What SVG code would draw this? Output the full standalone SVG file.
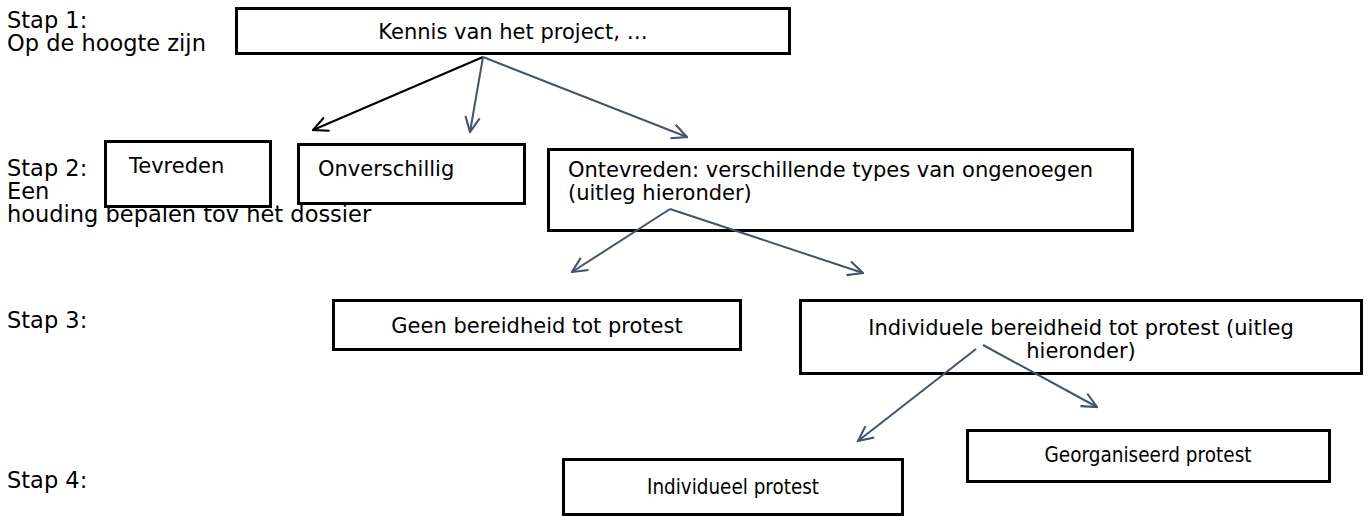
<svg xmlns="http://www.w3.org/2000/svg" width="1368" height="516" viewBox="0 0 1368 516">
  <style>
    .box { fill: #ffffff; stroke: #000000; stroke-width: 3; }
    .lbl { font-family: "DejaVu Sans", Verdana, sans-serif; font-size: 22.5px; fill: #000000; }
    .txt { font-family: "DejaVu Sans", Verdana, sans-serif; font-size: 21px; fill: #000000; }
    .mid { text-anchor: middle; }
    .con { fill: none; stroke: #44546A; stroke-width: 2; }
    .conk { fill: none; stroke: #000000; stroke-width: 2; }
  </style>
  <defs>
    <marker id="ah" viewBox="0 0 12 12" refX="11" refY="6" markerWidth="18" markerHeight="18" markerUnits="userSpaceOnUse" orient="auto">
      <path d="M1,1.2 L11,6 L1,10.8" fill="none" stroke="#44546A" stroke-width="1.4"/>
    </marker>
    <marker id="ahk" viewBox="0 0 12 12" refX="11" refY="6" markerWidth="18" markerHeight="18" markerUnits="userSpaceOnUse" orient="auto">
      <path d="M1,1.2 L11,6 L1,10.8" fill="none" stroke="#000000" stroke-width="1.4"/>
    </marker>
  </defs>

  <g id="labels">
    <text class="lbl" x="7" y="28">Stap 1:</text>
    <text class="lbl" x="7" y="51">Op de hoogte zijn</text>
    <text class="lbl" x="7" y="176">Stap 2:</text>
    <text class="lbl" x="7" y="199">Een</text>
    <text class="lbl" x="7" y="222">houding bepalen tov het dossier</text>
    <text class="lbl" x="7" y="328">Stap 3:</text>
    <text class="lbl" x="7" y="488">Stap 4:</text>
  </g>

  <g id="n-kennis">
    <rect class="box" x="236.5" y="8.5" width="553" height="45"/>
    <text class="txt mid" x="513" y="39">Kennis van het project, …</text>
  </g>
  <g id="n-tevreden">
    <rect class="box" x="105.5" y="141.5" width="165" height="65"/>
    <text class="txt" x="129" y="173">Tevreden</text>
  </g>
  <g id="n-onverschillig">
    <rect class="box" x="298.5" y="144.5" width="226" height="59"/>
    <text class="txt" x="318" y="176">Onverschillig</text>
  </g>
  <g id="n-ontevreden">
    <rect class="box" x="548.5" y="149.5" width="584" height="81"/>
    <text class="txt" x="568" y="177">Ontevreden: verschillende types van ongenoegen</text>
    <text class="txt" x="568" y="200">(uitleg hieronder)</text>
  </g>
  <g id="n-geen">
    <rect class="box" x="333.5" y="300.5" width="407" height="49"/>
    <text class="txt mid" x="537" y="333">Geen bereidheid tot protest</text>
  </g>
  <g id="n-individuele">
    <rect class="box" x="800.5" y="300.5" width="561" height="73"/>
    <text class="txt mid" x="1081" y="335">Individuele bereidheid tot protest (uitleg</text>
    <text class="txt mid" x="1081" y="358">hieronder)</text>
  </g>
  <g id="n-individueel">
    <rect class="box" x="563.5" y="459.5" width="339" height="55"/>
    <text class="txt mid" x="733" y="494" textLength="172" lengthAdjust="spacingAndGlyphs">Individueel protest</text>
  </g>
  <g id="n-georganiseerd">
    <rect class="box" x="967.5" y="430.5" width="362" height="51"/>
    <text class="txt mid" x="1148" y="462" textLength="207" lengthAdjust="spacingAndGlyphs">Georganiseerd protest</text>
  </g>

  <g id="connectors">
    <line class="conk" x1="483" y1="57" x2="313" y2="130" marker-end="url(#ahk)"/>
    <line class="con" x1="483" y1="57" x2="470" y2="132" marker-end="url(#ah)"/>
    <line class="con" x1="483" y1="57" x2="687" y2="137" marker-end="url(#ah)"/>
    <line class="con" x1="670" y1="209" x2="572" y2="272" marker-end="url(#ah)"/>
    <line class="con" x1="670" y1="209" x2="863" y2="273" marker-end="url(#ah)"/>
    <line class="con" x1="976" y1="349" x2="858" y2="441" marker-end="url(#ah)"/>
    <line class="con" x1="983" y1="345" x2="1097" y2="407" marker-end="url(#ah)"/>
  </g>
</svg>
